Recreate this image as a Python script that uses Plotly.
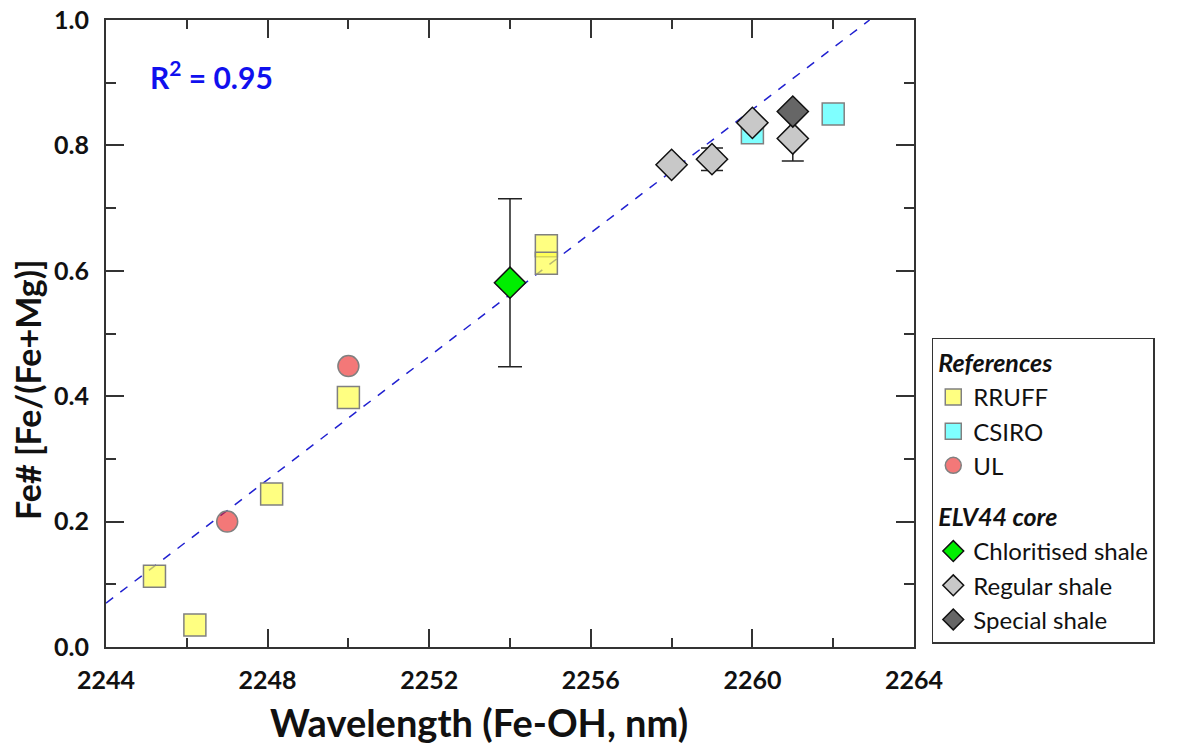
import plotly.graph_objects as go

# ---- data ----
rruff_x = [2245.2, 2246.2, 2248.1, 2250.0, 2254.9, 2254.9]
rruff_y = [0.113, 0.035, 0.244, 0.398, 0.640, 0.612]

csiro_x = [2260.0, 2262.0]
csiro_y = [0.820, 0.850]

ul_x = [2247.0, 2250.0]
ul_y = [0.200, 0.448]

chl_x = [2254.0]
chl_y = [0.581]
chl_err = [0.134]

reg_x = [2258.0, 2259.0, 2260.0, 2261.0]
reg_y = [0.769, 0.778, 0.836, 0.811]
reg_err = [0.0, 0.018, 0.0, 0.036]

spec_x = [2261.0]
spec_y = [0.854]

fit_x = [2244.0, 2262.9]
fit_y = [0.070, 1.000]

x_ticks = [2244, 2248, 2252, 2256, 2260, 2264]
y_ticks = [0.0, 0.2, 0.4, 0.6, 0.8, 1.0]

FONT = "Lato"
TXT = "#111111"

fig = go.Figure()

fig.add_trace(go.Scatter(x=fit_x, y=fit_y, mode="lines",
                         line=dict(color="#2020d0", width=1.5, dash="dash"),
                         showlegend=False, hoverinfo="skip"))

ref_line = dict(color="#808080", width=1.5)
fig.add_trace(go.Scatter(x=rruff_x, y=rruff_y, mode="markers", name="RRUFF",
                         legendgroup="ref", legendgrouptitle_text="<b><i>References</i></b>",
                         marker=dict(symbol="square", size=22, color="rgba(255,255,70,0.68)", line=ref_line)))
fig.add_trace(go.Scatter(x=csiro_x, y=csiro_y, mode="markers", name="CSIRO",
                         legendgroup="ref",
                         marker=dict(symbol="square", size=22, color="rgba(0,255,255,0.5)", line=ref_line)))
fig.add_trace(go.Scatter(x=ul_x, y=ul_y, mode="markers", name="UL",
                         legendgroup="ref",
                         marker=dict(symbol="circle", size=21, color="rgba(235,30,30,0.6)", line=ref_line)))

blk = dict(color="#111111", width=1.5)
fig.add_trace(go.Scatter(x=chl_x, y=chl_y, mode="markers", name="Chloritised shale",
                         legendgroup="elv", legendgrouptitle_text="<b><i>ELV44 core</i></b>",
                         error_y=dict(type="data", array=chl_err, visible=True, color="#222222", thickness=1.5, width=12),
                         marker=dict(symbol="diamond", size=24, color="#00ee00", line=blk)))
fig.add_trace(go.Scatter(x=reg_x, y=reg_y, mode="markers", name="Regular shale",
                         legendgroup="elv",
                         error_y=dict(type="data", array=reg_err, visible=True, color="#222222", thickness=1.5, width=11),
                         marker=dict(symbol="diamond", size=24, color="#c8c8c8", line=blk)))
fig.add_trace(go.Scatter(x=spec_x, y=spec_y, mode="markers", name="Special shale",
                         legendgroup="elv",
                         marker=dict(symbol="diamond", size=24, color="#666666", line=blk)))

fig.add_annotation(x=2246.6, y=0.913, xref="x", yref="y", showarrow=False,
                   text="<b>R<sup>2</sup> = 0.95</b>",
                   font=dict(family=FONT, size=30, color="#1010ee"))

# axis titles (placed as annotations to match the reference's offsets)
fig.add_annotation(x=0.4616, y=-0.119, xref="paper", yref="paper", showarrow=False,
                   xanchor="center", yanchor="middle",
                   text="<b>Wavelength (Fe-OH, nm)</b>", font=dict(family=FONT, size=38, color=TXT))
fig.add_annotation(x=-0.0965, y=0.41, xref="paper", yref="paper", showarrow=False,
                   xanchor="center", yanchor="middle", textangle=-90,
                   text="<b>Fe# [Fe/(Fe+Mg)]</b>", font=dict(family=FONT, size=34, color=TXT))

axis_common = dict(showgrid=False, zeroline=False, showline=True, linecolor="#333333", linewidth=2,
                   mirror="ticks", ticks="inside", ticklen=18, tickwidth=2, tickcolor="#333333",
                   automargin=False, ticklabeloverflow="allow",
                   tickfont=dict(family=FONT, size=25, color=TXT, weight="bold"))

fig.update_xaxes(range=[2244, 2264], tickvals=x_ticks, ticktext=[str(v) for v in x_ticks],
                 minor=dict(dtick=2, ticks="inside", ticklen=9, tickwidth=2, tickcolor="#333333"),
                 ticklabelstandoff=10,
                 **axis_common)
fig.update_yaxes(range=[0, 1.0], tickvals=y_ticks, ticktext=["%.1f" % v for v in y_ticks],
                 minor=dict(dtick=0.1, ticks="inside", ticklen=10, tickwidth=2, tickcolor="#333333"),
                 ticklabelstandoff=10,
                 **axis_common)

fig.update_layout(
    width=1192, height=747,
    margin=dict(l=98, r=286, t=12, b=108, autoexpand=False),
    paper_bgcolor="white", plot_bgcolor="white",
    legend=dict(x=1.022, y=0.005, xanchor="left", yanchor="bottom",
                bordercolor="#333333", borderwidth=1.5, bgcolor="white",
                font=dict(family=FONT, size=24, color=TXT),
                grouptitlefont=dict(family=FONT, size=25, color=TXT),
                tracegroupgap=16, itemsizing="trace"),
)

fig.write_html("out.html")
